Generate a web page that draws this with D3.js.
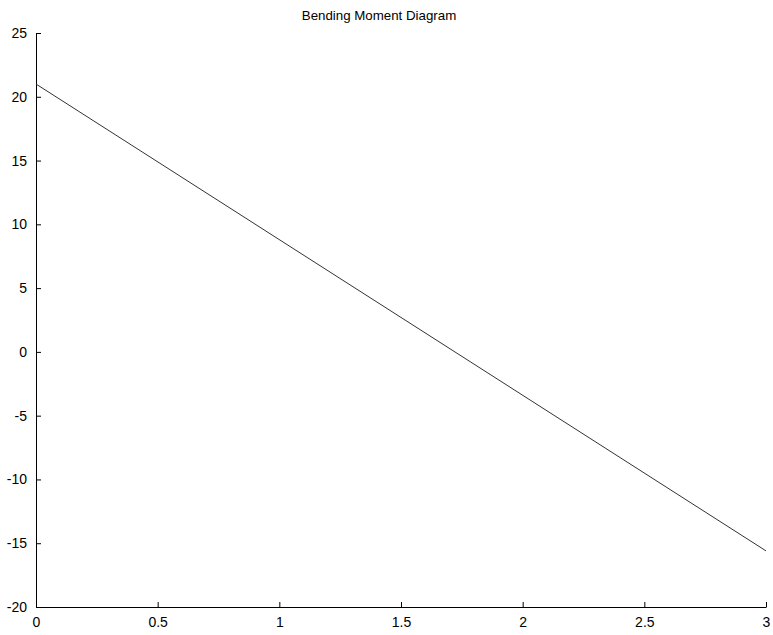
<!DOCTYPE html>
<html><head><meta charset="utf-8">
<script src="https://cdn.jsdelivr.net/npm/d3@7"></script>
<style>body{margin:0;background:#fff}svg{display:block}text{font-family:"Liberation Sans",Arial,sans-serif}</style>
</head><body>
<svg id="c" width="773" height="635"></svg>
<script>
const title = "Bending Moment Diagram";
const xs = [0, 3];
const moment = [21, -15.6];
const xTicks = [0, 0.5, 1, 1.5, 2, 2.5, 3];
const yTicks = [-20, -15, -10, -5, 0, 5, 10, 15, 20, 25];

const svg = d3.select("#c");
const m = {l: 36, r: 7, t: 33, b: 28};
const W = 773, H = 635;
const x = d3.scaleLinear().domain([0, 3]).range([m.l, W - m.r]);
const y = d3.scaleLinear().domain([-20, 25]).range([H - m.b, m.t]);

const fmt = d => String(d);
const xa = svg.append("g").attr("transform", `translate(0,${H - m.b})`)
  .call(d3.axisBottom(x).tickValues(xTicks).tickFormat(fmt).tickSizeInner(-5).tickSizeOuter(0).tickPadding(10));
const ya = svg.append("g").attr("transform", `translate(${m.l},0)`)
  .call(d3.axisLeft(y).tickValues(yTicks).tickFormat(fmt).tickSizeInner(-5).tickSizeOuter(0).tickPadding(9));
[xa, ya].forEach(a => {
  a.selectAll("path,line").attr("stroke", "#000").attr("stroke-width", 1);
  a.selectAll("text").attr("font-size", 14).attr("fill", "#000");
});

svg.append("path")
  .datum(xs.map((v, i) => [v, moment[i]]))
  .attr("fill", "none").attr("stroke", "#333").attr("stroke-width", 1)
  .attr("d", d3.line().x(d => x(d[0])).y(d => y(d[1])));

svg.append("text").attr("x", 379).attr("y", 20)
  .attr("text-anchor", "middle").attr("font-size", 13.3).attr("fill", "#000").text(title);
</script>
</body></html>
